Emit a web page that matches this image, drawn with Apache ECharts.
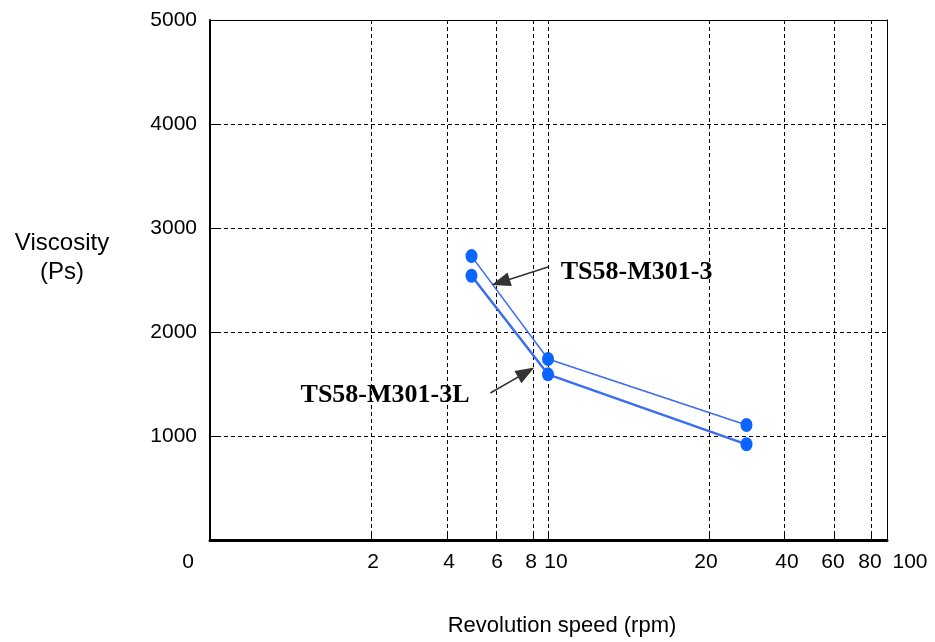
<!DOCTYPE html>
<html><head><meta charset="utf-8">
<script src="https://cdn.jsdelivr.net/npm/echarts@6/dist/echarts.min.js"></script>
<style>html,body{margin:0;padding:0;background:#fff}#c{width:935px;height:642px}</style>
</head><body><div id="c"></div>
<script>
// ---- data ----
const rpm = [5, 10, 30];
const seriesNames = ['TS58-M301-3', 'TS58-M301-3L'];
const viscosity3 = [2730, 1740, 1106];
const viscosity3L = [2541, 1593, 920];
const xTickLabels = ['0', '2', '4', '6', '8', '10', '20', '40', '60', '80', '100'];
const xTickValues = [0, 2, 4, 6, 8, 10, 20, 40, 60, 80, 100];
const yTickMax = 5000;
const yTickStep = 1000;
// annotation anchors in data units [rpm, viscosity]
const arrow3 = [[10, 2625], [6.25, 2479]];
const arrow3L = [[5.77, 1413], [7.63, 1612]];
const label3 = [15.5, 2577];
const label3L = [2.37, 1394];

// ---- axis layout (hand-drawn rpm axis, piecewise) ----
const xKnotPx = [0, 183, 259, 308, 345, 360, 521, 596, 646, 683, 722];
const xLabelPx = [0, 185, 261, 309, 343, 368, 518, 599, 645, 682, 722];

function scaleX(v) {
  for (let i = 1; i < xTickValues.length; i++) {
    if (v <= xTickValues[i]) {
      const t = (v - xTickValues[i - 1]) / (xTickValues[i] - xTickValues[i - 1]);
      return xKnotPx[i - 1] + t * (xKnotPx[i] - xKnotPx[i - 1]);
    }
  }
  return xKnotPx[xKnotPx.length - 1];
}
const toXY = (p) => [scaleX(p[0]), p[1]];

const SANS = 'Liberation Sans, Arial, sans-serif';
const SERIF = 'Liberation Serif, Times New Roman, serif';
const LINE = '#3a6cf4';
const DOT = '#0a64ff';

const chart = echarts.init(document.getElementById('c'), null, {renderer: 'canvas'});
const innerTicks = xKnotPx.slice(1, -1);

const option = {
  animation: false,
  backgroundColor: '#fff',
  grid: [
    {left: 210, right: 48, top: 20, bottom: 102},
    {left: 188, right: 25, top: 20, bottom: 102}
  ],
  xAxis: [
    { // plot axis
      gridIndex: 0, type: 'value', min: 22, max: 699, position: 'bottom',
      axisLine: {show: true, onZero: false, lineStyle: {color: '#000', width: 3}},
      axisTick: {show: true, inside: true, length: 6, customValues: innerTicks, lineStyle: {color: '#000', width: 1}},
      axisLabel: {show: false},
      splitLine: {show: true, lineStyle: {color: '#000', width: 1, type: [4, 3]}}
    },
    { // top frame
      gridIndex: 0, type: 'value', min: 22, max: 699, position: 'top',
      axisLine: {show: true, onZero: false, lineStyle: {color: '#000', width: 1}},
      axisTick: {show: false}, axisLabel: {show: false}, splitLine: {show: false}
    },
    { // label axis
      gridIndex: 1, type: 'value', min: 0, max: 722, position: 'bottom',
      axisLine: {show: false}, axisTick: {show: false}, splitLine: {show: false},
      axisLabel: {
        show: true, customValues: xLabelPx, margin: 14,
        color: '#000', fontSize: 21, fontFamily: SANS,
        formatter: (v) => {
          let best = 0;
          xLabelPx.forEach((p, i) => { if (Math.abs(p - v) < Math.abs(xLabelPx[best] - v)) best = i; });
          return xTickLabels[best];
        }
      },
      name: 'Revolution speed (rpm)', nameLocation: 'middle', nameGap: 77,
      nameTextStyle: {color: '#000', fontSize: 22, fontFamily: SANS, padding: [0, 0, 0, 26]}
    }
  ],
  yAxis: [
    {
      gridIndex: 0, type: 'value', min: 0, max: yTickMax, interval: yTickStep, position: 'left',
      axisLine: {show: true, onZero: false, lineStyle: {color: '#000', width: 2}},
      axisTick: {show: true, inside: true, length: 8, lineStyle: {color: '#000', width: 1}},
      axisLabel: {color: '#000', fontSize: 21, fontFamily: SANS, margin: 13,
        formatter: (v) => v === 0 ? '' : String(v)},
      splitLine: {show: true, lineStyle: {color: '#000', width: 1, type: [4, 3]}}
    },
    { // right frame
      gridIndex: 0, type: 'value', min: 0, max: yTickMax, position: 'right',
      axisLine: {show: true, onZero: false, lineStyle: {color: '#000', width: 1}},
      axisTick: {show: false}, axisLabel: {show: false}, splitLine: {show: false}
    },
    {gridIndex: 1, type: 'value', min: 0, max: yTickMax, show: false}
  ],
  graphic: [
    {type: 'text', x: 62, y: 258,
     style: {text: 'Viscosity\n(Ps)', fill: '#000', font: '24px ' + SANS, align: 'center', verticalAlign: 'middle', lineHeight: 29}}
  ],
  series: [
    {
      name: seriesNames[0], type: 'line', xAxisIndex: 0, yAxisIndex: 0,
      data: rpm.map((r, i) => [scaleX(r), viscosity3[i]]),
      symbol: 'circle', symbolSize: [12, 14], showSymbol: true,
      lineStyle: {color: LINE, width: 1.5}, itemStyle: {color: DOT},
      z: 3,
      markLine: {
        silent: true, animation: false,
        label: {show: false},
        lineStyle: {color: '#333', width: 1.6, type: 'solid'},
        data: [
          [{coord: toXY(arrow3[0]), symbol: 'none'}, {coord: toXY(arrow3[1]), symbol: 'triangle', symbolSize: [14, 19]}],
          [{coord: toXY(arrow3L[0]), symbol: 'none'}, {coord: toXY(arrow3L[1]), symbol: 'triangle', symbolSize: [14, 19]}]
        ]
      },
      markPoint: {
        silent: true, animation: false,
        symbol: 'circle', symbolSize: 0,
        label: {show: true, position: 'inside', color: '#000', fontFamily: SERIF, fontWeight: 'bold', fontSize: 26,
          formatter: (p) => p.name},
        data: [
          {name: seriesNames[0], coord: toXY(label3)},
          {name: seriesNames[1], coord: toXY(label3L)}
        ]
      }
    },
    {
      name: seriesNames[1], type: 'line', xAxisIndex: 0, yAxisIndex: 0,
      data: rpm.map((r, i) => [scaleX(r), viscosity3L[i]]),
      symbol: 'circle', symbolSize: [12, 14], showSymbol: true,
      lineStyle: {color: LINE, width: 2.5}, itemStyle: {color: DOT},
      z: 3
    }
  ]
};
chart.setOption(option);
</script>
</body></html>
